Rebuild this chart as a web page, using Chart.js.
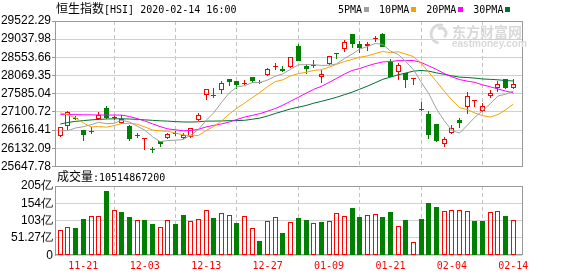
<!DOCTYPE html>
<html><head><meta charset="utf-8">
<script src="https://cdn.jsdelivr.net/npm/chart.js@4.4.1/dist/chart.umd.min.js"></script>
<style>
html,body{margin:0;padding:0;background:#fff;width:578px;height:276px;overflow:hidden;position:relative}
canvas{position:absolute;left:0}
#cA{top:0}
#cB{top:170px}
.t{position:absolute;white-space:nowrap;color:#000;line-height:14px;height:14px;font-family:"Noto Sans CJK SC";font-size:12px}
.asc{font-family:"DejaVu Sans Mono";font-size:10px}
.sq{display:inline-block;width:5px;height:5px;margin:0 10px 0 2px;position:relative;top:-1px}
</style></head><body>
<canvas id="cA" width="578" height="180"></canvas>
<canvas id="cB" width="578" height="106"></canvas>
<div class="t" id="title" style="left:56px;top:1px"></div>
<div class="t" id="legend" style="left:338px;top:1px"></div>
<div class="t" id="volTitle" style="left:57px;top:169px"></div>
<script>
// ---------- data ----------
const dates = ['11-18','11-19','11-20','11-21','11-22','11-25','11-26','11-27','11-28','11-29',
'12-02','12-03','12-04','12-05','12-06','12-09','12-10','12-11','12-12','12-13',
'12-16','12-17','12-18','12-19','12-20','12-23','12-24','12-27','12-30','12-31',
'01-02','01-03','01-06','01-07','01-08','01-09','01-10','01-13','01-14','01-15',
'01-16','01-17','01-20','01-21','01-22','01-23','01-24','01-29','01-30','01-31',
'02-03','02-04','02-05','02-06','02-07','02-10','02-11','02-12','02-13','02-14'];
const open  = [26469,26726,26950,26620,26570,26921,27196,26935,26815,26726,26480,26371,26090,26330,26398,26535,26420,26424,26877,27552,27560,27685,27969,27916,27850,28031,27900,28075,28290,28250,28288,28865,28333,28345,28030,28377,28665,28785,29176,28910,28848,29040,29176,28439,28155,28129,27965,27150,27050,26779,26247,26531,26886,27223,27395,27134,27534,27738,27978,27729];
const high  = [26708,27134,26995,26630,26690,27108,27258,26992,27019,26740,26530,26420,26175,26340,26530,26593,26530,26682,27072,27711,27730,27916,27969,27916,27951,28031,27942,28262,28413,28330,28573,28900,28377,28484,28217,28581,28665,29016,29176,28990,28972,29132,29194,28510,28395,28129,27995,27355,27134,26779,26433,26753,26930,27623,27410,27330,27685,27924,27978,27969];
const low   = [26433,26619,26880,26327,26513,26910,26910,26886,26805,26327,26420,26087,26010,26180,26390,26470,26398,26398,26859,27427,27480,27587,27800,27711,27818,27871,27853,28058,28218,28180,28262,28466,28102,28262,27880,28350,28519,28706,28812,28661,28732,28954,28821,28022,27951,27746,27817,27135,26371,26291,26176,26513,26682,27046,27241,27108,27480,27640,27720,27720];
const close = [26690,27110,26920,26486,26600,27010,26930,26954,26904,26370,26460,26398,26078,26250,26513,26500,26490,26664,27019,27711,27520,27862,27907,27827,27880,27933,27880,28235,28330,28200,28555,28466,28244,28330,28100,28581,28650,28954,28910,28790,28901,29070,28821,28022,28350,27940,27980,27170,26480,26335,26380,26682,26815,27516,27410,27250,27610,27845,27738,27840];
const prevClose = 26327;
const volume = [76,85,82,107,115,115,190,133,127,112,103,104,92,85,103,92,119,100,106,133,110,124,118,95,115,82,42,100,112,65,97,109,104,94,98,100,124,115,140,112,118,122,113,128,88,104,39,107,155,143,130,133,133,130,101,101,127,130,116,105.1];
const ma5  = [26595,26604,26674,26707,26761,26825,26789,26796,26880,26834,26724,26617,26442,26311,26340,26348,26366,26483,26637,26877,27081,27355,27604,27765,27799,27882,27885,27951,28052,28116,28240,28357,28359,28359,28339,28344,28381,28523,28639,28777,28841,28925,28898,28721,28633,28441,28223,27892,27584,27181,26869,26609,26538,26746,26961,27135,27320,27526,27571,27657];
const ma10 = [27077,27020,26943,26807,26702,26710,26697,26735,26793,26797,26774,26703,26619,26595,26587,26536,26492,26463,26474,26608,26714,26861,27044,27201,27338,27481,27620,27777,27909,27957,28061,28121,28155,28205,28227,28292,28369,28441,28499,28558,28593,28653,28711,28680,28705,28641,28574,28395,28152,27907,27655,27416,27215,27165,27071,27002,26965,27032,27158,27309];
const ma20 = [27037,27030,27028,27025,27022,27020,27018,27018,27016,26979,26924,26860,26785,26710,26650,26625,26600,26605,26640,26702,26745,26782,26832,26899,26963,27009,27056,27120,27191,27282,27387,27491,27599,27703,27782,27886,27995,28109,28204,28258,28327,28387,28433,28443,28466,28466,28471,28418,28326,28232,28124,28035,27963,27922,27888,27821,27769,27714,27655,27608];
const ma30 = [26779,26820,26850,26870,26888,26902,26912,26918,26920,26912,26903,26890,26877,26864,26856,26843,26834,26832,26838,26856,26857,26861,26868,26870,26878,26906,26938,26993,27060,27120,27182,27227,27272,27333,27383,27435,27493,27559,27626,27707,27788,27877,27969,28028,28089,28137,28188,28205,28187,28141,28103,28063,28027,28017,28001,27978,27969,27956,27937,27925];
const priceTicks = [25647.78,26132.09,26616.41,27100.72,27585.04,28069.35,28553.66,29037.98,29522.29];
const volTicks = [0,51.27,102.54,153.81,205.08];
const volTickLabels = ['0','51.27亿','103亿','154亿','205亿'];
const maNames = ['5PMA','10PMA','20PMA','30PMA'];
const titleName = '恒生指数';
const titleCode = '[HSI] 2020-02-14 16:00';
const volName = '成交量';
const volValue = ':10514867200';
const wmName = '东方财富网';
const wmSite = 'eastmoney.com';

// ---------- style ----------
const RED = '#ff0000', GREEN = '#008000';
const maColors = ['#a0a0a0','#f5a300','#ff00ff','#006f30'];
const GRID = '#d0d0d0', VGRID = '#c4c4c4', FRAME = '#999999';
const X_MIN = -0.69, X_MAX = 60.13;
const tickIdx = dates.map((d,i)=>i).filter(i=>i%8===3);

// ---------- html text ----------
document.getElementById('title').innerHTML = titleName + '<span class="asc">' + titleCode + '</span>';
document.getElementById('legend').innerHTML = maNames.map((n,i)=>'<span class="asc">'+n+'</span><span class="sq" style="background:'+maColors[i]+'"></span>').join('');
document.getElementById('volTitle').innerHTML = volName + '<span class="asc">' + volValue + '</span>';

// ---------- plugins ----------
const frame = {
  id:'frame',
  beforeDatasetsDraw(chart){
    const {ctx, chartArea:a} = chart;
    ctx.save();
    ctx.strokeStyle = FRAME; ctx.lineWidth = 1;
    const l = Math.round(a.left)+0.5, t = Math.round(a.top)+0.5;
    const r = Math.round(a.right)+0.5, b = Math.round(a.bottom)-0.5;
    ctx.strokeRect(l, t, r-l, b-t);
    ctx.restore();
  }
};
// snap bar elements (positions come from the scales) to whole pixels for crisp edges
const pixelSnap = {
  id:'pixelSnap',
  beforeDatasetsDraw(chart){
    chart.getSortedVisibleDatasetMetas().forEach(meta=>{
      if (meta.type !== 'bar') return;
      meta.data.forEach(el=>{
        el.x = Math.round(el.x - 0.5) + 0.5;
        let y = Math.round(el.y), b = Math.round(el.base);
        if (y === b && Math.abs(el.y - el.base) > 0.2) { b = y + 1; }
        el.y = y; el.base = b;
      });
    });
  }
};
const watermark = {
  id:'watermark',
  beforeDatasetsDraw(chart){
    const {ctx} = chart;
    ctx.save();
    ctx.fillStyle = '#d9d9d9';
    ctx.strokeStyle = '#d9d9d9';
    ctx.lineWidth = 3;
    ctx.beginPath(); ctx.arc(440, 34, 9, Math.PI*0.55, Math.PI*1.6); ctx.stroke();
    ctx.beginPath(); ctx.arc(441, 33, 5, Math.PI*1.3, Math.PI*0.3); ctx.stroke();
    ctx.font = 'bold 14px "Noto Sans CJK SC"';
    ctx.textBaseline = 'alphabetic';
    ctx.fillText(wmName, 452, 37);
    ctx.font = 'bold 10px "Liberation Sans"';
    ctx.fillText(wmSite, 452, 47);
    ctx.restore();
  }
};

const isUp = close.map((c,i)=>c>open[i]);
const candleCol = isUp.map(u=>u?RED:GREEN);
const xScale = (showTicks) => ({
  type:'linear', min:X_MIN, max:X_MAX, offset:false,
  afterBuildTicks:s=>{ s.ticks = tickIdx.map(v=>({value:v})); },
  ticks:{display:showTicks, autoSkip:false, maxRotation:0, padding:5,
    callback:v=>dates[v], color:RED, font:{family:'DejaVu Sans Mono', size:10}},
  grid:{color:VGRID, drawTicks:false, borderDash:[4,3]},
  border:{display:false, dash:[4,3]}
});

// ---------- price chart ----------
new Chart(document.getElementById('cA'), {
  type:'bar',
  data:{datasets:[
    ...[ma5,ma10,ma20,ma30].map((m,k)=>({type:'line', data:m.map((v,i)=>({x:i,y:v})),
      borderColor:maColors[k], borderWidth:1, pointRadius:0, tension:0, fill:false, order:0})),
    {type:'bar', data:close.map((c,i)=>({x:i, y:[Math.max(c,open[i]), high[i]]})),
      backgroundColor:candleCol, borderWidth:0, barThickness:1, grouped:false, inflateAmount:0, order:2},
    {type:'bar', data:close.map((c,i)=>({x:i, y:[low[i], Math.min(c,open[i])]})),
      backgroundColor:candleCol, borderWidth:0, barThickness:1, grouped:false, inflateAmount:0, order:2},
    {type:'bar', data:close.map((c,i)=>({x:i, y:[open[i], c]})),
      backgroundColor:isUp.map(u=>u?'rgba(255,255,255,0)':GREEN), borderColor:candleCol,
      borderWidth:1, borderSkipped:false, barThickness:5, grouped:false, minBarLength:1, inflateAmount:0, order:1}
  ]},
  options:{
    responsive:false, animation:false, events:[],
    layout:{padding:{top:21,right:56,bottom:13.5,left:0}},
    plugins:{legend:{display:false}, tooltip:{enabled:false}},
    scales:{
      x:Object.assign(xScale(false), {afterFit:s=>{s.height=0;}}),
      y:{min:priceTicks[0], max:priceTicks[priceTicks.length-1],
        afterBuildTicks:s=>{ s.ticks = priceTicks.map(v=>({value:v})); },
        afterFit:s=>{ s.width=55; },
        ticks:{autoSkip:false, callback:v=>v.toFixed(2), color:'#000', padding:1, font:{family:'Liberation Sans', size:12}},
        grid:{color:GRID, tickColor:FRAME, tickLength:3},
        border:{display:true, color:FRAME}}
    }
  },
  plugins:[frame, watermark, pixelSnap]
});

// ---------- volume chart ----------
const volUp = close.map((c,i)=>c >= (i===0?prevClose:close[i-1]));
new Chart(document.getElementById('cB'), {
  type:'bar',
  data:{datasets:[{
    data:volume.map((v,i)=>({x:i,y:v})),
    backgroundColor:volUp.map(u=>u?'rgba(255,255,255,0)':GREEN),
    borderColor:volUp.map(u=>u?RED:GREEN),
    borderWidth:1, borderSkipped:false, barThickness:5, grouped:false, inflateAmount:0
  }]},
  options:{
    responsive:false, animation:false, events:[],
    layout:{padding:{top:16,right:56,bottom:0,left:0}},
    plugins:{legend:{display:false}, tooltip:{enabled:false}},
    scales:{
      x:Object.assign(xScale(true), {afterFit:s=>{s.height=20.8;}}),
      y:{min:0, max:volTicks[volTicks.length-1],
        afterBuildTicks:s=>{ s.ticks = volTicks.map(v=>({value:v})); },
        afterFit:s=>{ s.width=55; },
        ticks:{autoSkip:false, callback:(v,i)=>volTickLabels[i], color:'#000', padding:2, font:{family:'Liberation Sans', size:12}},
        grid:{color:GRID, drawTicks:false},
        border:{display:true, color:FRAME}}
    }
  },
  plugins:[frame, pixelSnap]
});
</script>
</body></html>
